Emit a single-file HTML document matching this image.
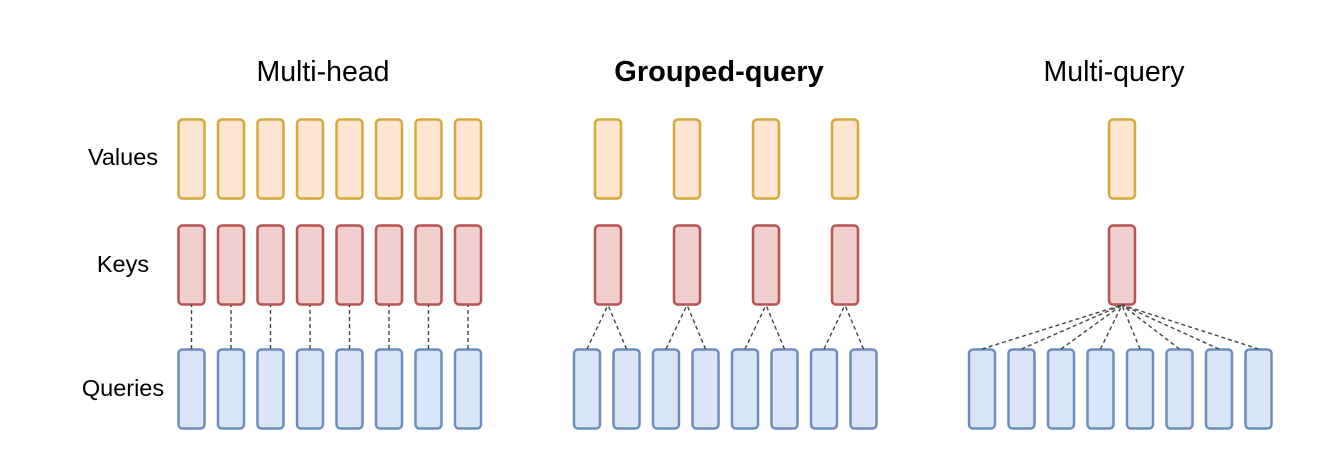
<!DOCTYPE html>
<html><head><style>body{margin:0;background:#fff}</style></head><body>
<svg width="1344" height="452" xmlns="http://www.w3.org/2000/svg" font-family="Liberation Sans, sans-serif">
<rect width="1344" height="452" fill="#fff"/>
<text x="323" y="81" font-size="28.5" text-anchor="middle" fill="#000">Multi-head</text>
<text x="719" y="81" font-size="29" font-weight="bold" text-anchor="middle" fill="#000">Grouped-query</text>
<text x="1114" y="81" font-size="28.5" text-anchor="middle" fill="#000">Multi-query</text>
<text x="123" y="165" font-size="23.5" text-anchor="middle">Values</text>
<text x="123" y="272" font-size="23.5" text-anchor="middle">Keys</text>
<text x="123" y="396" font-size="23.5" text-anchor="middle">Queries</text>
<g id="g"></g>
</svg>
<script>
const g=document.getElementById('g');let s='';
function box(x,y,f,st){s+=`<rect x="${x}" y="${y}" width="26" height="79" rx="4" fill="${f}" stroke="${st}" stroke-width="2.5"/>`;}
function V(x){box(x,119.5,'#fce6d1','#d6a83a');}
function K(x){box(x,225.5,'#f2cfcf','#b85450');}
function Q(x){box(x,349.5,'#dae6f8','#6c8ebf');}
function L(x1,y1,x2,y2){s+=`<line x1="${x1}" y1="${y1}" x2="${x2}" y2="${y2}" stroke="#444" stroke-width="1.4" stroke-dasharray="4,3"/>`;}
for(let i=0;i<8;i++){const x=178.5+i*39.5;V(x);K(x);Q(x);L(x+13,349,x+13,305);}
for(let j=0;j<4;j++){const kx=595+j*79;V(kx);K(kx);for(let k=0;k<2;k++){const qx=574+(2*j+k)*39.5;Q(qx);L(qx+13,349,kx+13,305);}}
V(1109);K(1109);for(let i=0;i<8;i++){const qx=969+i*39.5;Q(qx);L(qx+13,349,1122,305);}
g.outerHTML=s;
</script>
</body></html>
